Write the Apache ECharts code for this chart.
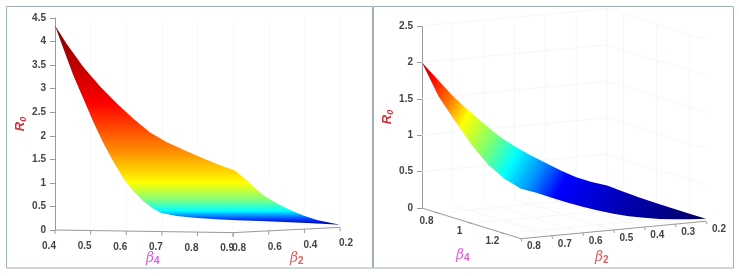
<!DOCTYPE html>
<html><head><meta charset="utf-8">
<style>html,body{margin:0;padding:0;background:#fff}#c{width:739px;height:276px}</style>
<script src="https://cdn.jsdelivr.net/npm/echarts@6/dist/echarts.min.js"></script>
</head><body><div id="c"></div>
<script>
// LEFT PANEL: position along the kinked floor axis (tick units) and R0
const leftTickPos = [0,1,2,3,4,5,5,6,7,8];
const leftTickLabels = ['0.4','0.5','0.6','0.7','0.8','0.9','0.8','0.6','0.4','0.2'];
const leftUpperPos = [0,0.33,0.795,1.26,1.73,2.2,2.67,3.14,3.7,4.17,4.63,5.03,5.29,5.57,5.85,6.23,6.6,6.97,7.35,7.72,8];
const leftUpperR0  = [4.34,3.95,3.46,3.05,2.69,2.36,2.07,1.86,1.67,1.52,1.377,1.27,1.116,0.917,0.74,0.565,0.424,0.31,0.21,0.155,0.113];
const leftLowerPos = [0,0.235,0.515,0.795,1.077,1.36,1.64,1.92,2.2,2.48,2.76,2.99,3.42,3.98,4.54,5.1,5.76,6.41,7.07,7.63,8];
const leftLowerR0  = [4.34,3.85,3.28,2.79,2.29,1.84,1.45,1.095,0.82,0.61,0.45,0.36,0.297,0.254,0.226,0.205,0.19,0.17,0.148,0.127,0.113];
const leftFloorPos = [0,5,8];
const leftFloorR0  = [0,-0.056,0.056];
// RIGHT PANEL: R0 along the four edges of the surface
const beta2Edge = [0.8,0.75,0.7,0.65,0.6,0.55,0.5,0.45,0.4,0.35,0.3,0.25,0.2];
const beta4Edge = [0.7,0.8,0.9,1.0,1.1,1.2,1.3];
const r0AtBeta4Low  = [2,1.75,1.50,1.283,1.08,0.885,0.727,0.588,0.463,0.335,0.222,0.136,0.07];
const r0AtBeta2Low  = [0.07,0.055,0.04,0.035,0.033,0.033,0.033];
const r0AtBeta2High = [2,1.606,1.336,1.081,0.88,0.753,0.686];
const r0AtBeta4High = [0.686,0.611,0.522,0.437,0.358,0.287,0.222,0.169,0.127,0.092,0.067,0.047,0.033];
const rightBeta2Ticks = [0.8,0.7,0.6,0.5,0.4,0.3,0.2];
const rightBeta4Ticks = [0.8,1,1.2];
const rightR0Ticks = [0,0.5,1,1.5,2,2.5];

// Oblique projection of (beta2, beta4, R0) onto the right panel's axes
function project(b2, b4, r) {
  return [(b4-0.7)/0.6*0.346 + (0.8-b2)/0.6*0.647,
          r - (b4-0.7)*0.7025 + (0.8-b2)*0.3994];
}
const INK = '#444', AXIS = '#9a9a9a', WALL = '#f6f7f7';
const FONT = 'Liberation Sans, Arial, sans-serif';

function floorAt(p){
  for (let i=0;i<leftFloorPos.length-1;i++){
    if (p<=leftFloorPos[i+1]) {
      const t=(p-leftFloorPos[i])/(leftFloorPos[i+1]-leftFloorPos[i]);
      return leftFloorR0[i]+t*(leftFloorR0[i+1]-leftFloorR0[i]);
    }
  }
  return leftFloorR0[leftFloorR0.length-1];
}
function label(text,x,y){
  return {type:'text',style:{text:text,x:x,y:y,fill:INK,font:'bold 10px '+FONT,align:'center',verticalAlign:'middle'}};
}
function seg(a,b,color,w){
  return {type:'line',shape:{x1:a[0],y1:a[1],x2:b[0],y2:b[1]},style:{stroke:color,lineWidth:w||1,fill:null}};
}

const leftStops=[[0,'#7a0000'],[0.12,'#a50000'],[0.39,'#ff0000'],[0.63,'#ff8c00'],[0.79,'#ffff00'],[0.875,'#80ff80'],[0.93,'#00ffff'],[0.975,'#0030ff'],[1,'#000080']];
const rightStops=[[0,'#a00000'],[0.05,'#ff0000'],[0.135,'#ff8000'],[0.2,'#ffff00'],[0.3,'#80ff70'],[0.39,'#00ffff'],[0.475,'#0090ff'],[0.56,'#0000ff'],[0.72,'#0000c0'],[0.85,'#000090'],[1,'#000060']];
const grad=(x2,y2,stops)=>new echarts.graphic.LinearGradient(0,0,x2,y2,stops.map(s=>({offset:s[0],color:s[1]})));

function leftRender(p,api){
  const ch=[];
  const up=leftUpperPos.map((x,i)=>api.coord([x,leftUpperR0[i]]));
  const lo=leftLowerPos.map((x,i)=>api.coord([x,leftLowerR0[i]]));
  ch.push({type:'polygon',shape:{points:up.concat(lo.reverse())},style:{fill:grad(0,1,leftStops)}});
  const fl=leftFloorPos.map((x,i)=>api.coord([x,leftFloorR0[i]]));
  for(let i=0;i<fl.length-1;i++) ch.push(seg(fl[i],fl[i+1],AXIS));
  leftTickPos.forEach((x,i)=>{
    const a=api.coord([x,floorAt(x)]);
    ch.push(seg(a,[a[0],a[1]+4],AXIS));
    const dx = i<=5 ? -6 : 6;
    ch.push(label(leftTickLabels[i],a[0]+dx,a[1]+16));
  });
  return {type:'group',children:ch};
}
function rightRender(p,api){
  const c=(b2,b4,r)=>api.coord(project(b2,b4,r));
  const ch=[];
  // faint walls and floor
  rightR0Ticks.slice(1).forEach(r=>{
    ch.push(seg(c(0.8,0.7,r),c(0.2,0.7,r),WALL));
    ch.push(seg(c(0.2,0.7,r),c(0.2,1.3,r),WALL));
  });
  rightBeta2Ticks.slice(1).forEach(b=>{
    ch.push(seg(c(b,0.7,0),c(b,0.7,2.5),WALL));
    ch.push(seg(c(b,0.7,0),c(b,1.3,0),WALL));
  });
  rightBeta4Ticks.forEach(b=>{
    ch.push(seg(c(0.2,b,0),c(0.2,b,2.5),WALL));
    ch.push(seg(c(0.8,b,0),c(0.2,b,0),WALL));
  });
  // surface: edges in order around the patch
  const pts=[];
  beta2Edge.forEach((b,i)=>pts.push(c(b,0.7,r0AtBeta4Low[i])));
  beta4Edge.forEach((b,i)=>{ if(i) pts.push(c(0.2,b,r0AtBeta2Low[i])); });
  for(let i=beta2Edge.length-2;i>=0;i--) pts.push(c(beta2Edge[i],1.3,r0AtBeta4High[i]));
  for(let i=beta4Edge.length-2;i>0;i--) pts.push(c(0.8,beta4Edge[i],r0AtBeta2High[i]));
  ch.push({type:'polygon',shape:{points:pts},style:{fill:grad(1,1,rightStops)}});
  // floor axes
  ch.push(seg(c(0.8,0.7,0),c(0.8,1.3,0),AXIS));
  ch.push(seg(c(0.8,1.3,0),c(0.2,1.3,0),AXIS));
  rightBeta4Ticks.forEach(b=>{
    const a=c(0.8,b,0);
    ch.push(seg(a,[a[0]-4,a[1]-1],AXIS));
    ch.push(label(String(b),a[0]-12,a[1]+8));
  });
  rightBeta2Ticks.forEach(b=>{
    const a=c(b,1.3,0);
    ch.push(seg(a,[a[0]+1,a[1]+3],AXIS));
    ch.push(label(String(b),a[0]+13,a[1]+8));
  });
  return {type:'group',children:ch};
}
const hiddenX={type:'value',min:0,show:true,axisLine:{show:false},axisTick:{show:false},axisLabel:{show:false}};
const yAxisBase=(name,gap)=>({type:'value',min:0,position:'left',
  name:name,nameLocation:'middle',nameGap:gap,nameRotate:90,
  nameTextStyle:{rich:{
    r:{fontFamily:FONT,fontSize:13,fontWeight:'bold',fontStyle:'italic',color:'#cf3039'},
    s:{fontFamily:FONT,fontSize:9,fontWeight:'bold',fontStyle:'italic',color:'#cf3039',verticalAlign:'bottom',padding:[6,0,0,0]}}},
  axisLine:{show:true,lineStyle:{color:AXIS,width:1}},
  axisTick:{show:true,length:5,lineStyle:{color:AXIS}},
  splitLine:{show:false},
  axisLabel:{color:INK,fontFamily:FONT,fontWeight:'bold',fontSize:10,margin:9,showMinLabel:true,showMaxLabel:true}
});
const greek=(sub,color,x,y)=>({type:'text',x:x,y:y,style:{
  text:'{b|β}{s|'+sub+'}',rich:{
   b:{fontFamily:'DejaVu Serif, Liberation Serif, serif',fontSize:14,fontStyle:'italic',fill:color,color:color},
   s:{fontFamily:FONT,fontSize:10,fontWeight:'bold',fill:color,color:color,padding:[6,0,0,0]}}}});
const frame=(x,y,w,h)=>({type:'rect',shape:{x:x,y:y,width:w,height:h},style:{fill:null,stroke:'#9fb0b4',lineWidth:1},silent:true,z:-1});

const chart=echarts.init(document.getElementById('c'),null,{renderer:'canvas'});
chart.setOption({
  animation:false,backgroundColor:'#fff',
  grid:[{left:55,top:18,width:285,height:212,containLabel:false},{left:422,top:26,width:286,height:182,containLabel:false}],
  xAxis:[
    Object.assign({},hiddenX,{gridIndex:0,max:8,interval:1,splitLine:{show:true,lineStyle:{color:'#f9f9f9'}}}),
    Object.assign({},hiddenX,{gridIndex:1,max:1,splitLine:{show:false}})
  ],
  yAxis:[
    Object.assign(yAxisBase('{r|R}{s|0}',27),{gridIndex:0,max:4.5,interval:0.5}),
    Object.assign(yAxisBase('{r|R}{s|0}',26),{gridIndex:1,max:2.5,interval:0.5})
  ],
  series:[
    {type:'custom',xAxisIndex:0,yAxisIndex:0,data:[[0,0]],renderItem:leftRender,silent:true,clip:false},
    {type:'custom',xAxisIndex:1,yAxisIndex:1,data:[[0,0]],renderItem:rightRender,silent:true,clip:false}
  ],
  graphic:[
    frame(6.5,6.5,366,261.5),frame(373.5,6.5,360,261.5),
    greek('4','#d95fd9',146,250),greek('2','#d9605f',290,250),
    greek('4','#d95fd9',456,247),greek('2','#d9605f',595,249)
  ]
});
</script></body></html>
